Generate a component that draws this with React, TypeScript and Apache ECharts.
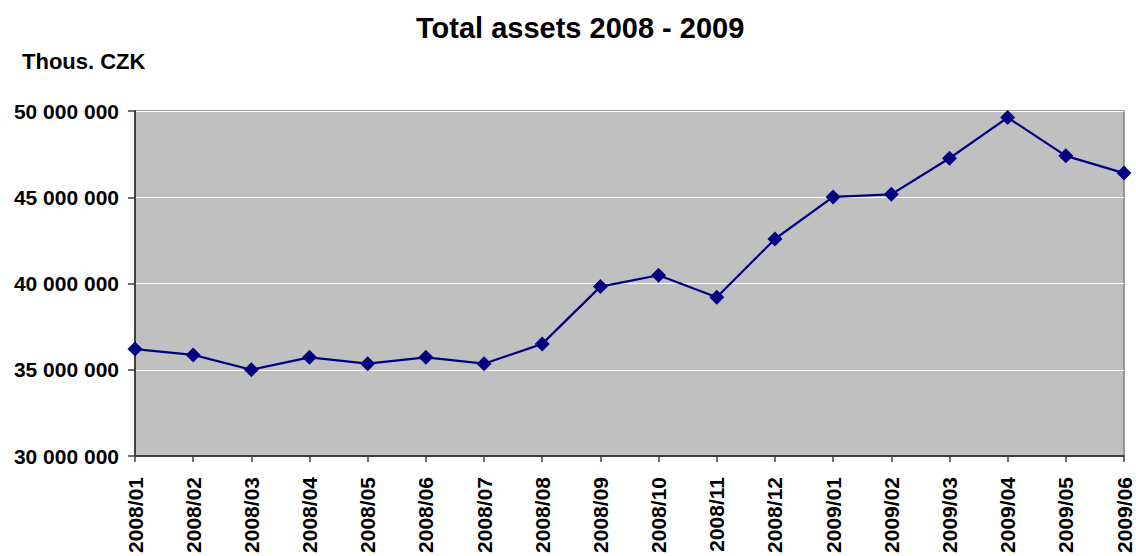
import React, { useEffect, useRef } from "react";
import * as echarts from "echarts";

const categories = [
  "2008/01", "2008/02", "2008/03", "2008/04", "2008/05", "2008/06",
  "2008/07", "2008/08", "2008/09", "2008/10", "2008/11", "2008/12",
  "2009/01", "2009/02", "2009/03", "2009/04", "2009/05", "2009/06",
];

const totalAssets = [
  36200000, 35860000, 35000000, 35720000, 35350000, 35720000,
  35350000, 36500000, 39820000, 40480000, 39200000, 42580000,
  45020000, 45170000, 47260000, 49620000, 47400000, 46400000,
];

const titleText = "Total assets 2008 - 2009";
const unitText = "Thous. CZK";

function fmt(v: number): string {
  return String(Math.round(v)).replace(/\B(?=(\d{3})+(?!\d))/g, " ");
}

export default function App() {
  const ref = useRef<HTMLDivElement>(null);
  useEffect(() => {
    if (!ref.current) return;
    const chart = echarts.init(ref.current, null, { renderer: "svg" });
    const font = "'Liberation Sans', Arial, sans-serif";
    chart.setOption({
      animation: false,
      backgroundColor: "#ffffff",
      title: [
        {
          text: titleText,
          left: 411,
          top: 8,
          textStyle: { fontFamily: font, fontWeight: "bold", fontSize: 29, color: "#000" },
        },
        {
          text: unitText,
          left: 17,
          top: 45,
          textStyle: { fontFamily: font, fontWeight: "bold", fontSize: 22, color: "#000" },
        },
      ],
      grid: {
        left: 135,
        top: 111,
        right: 12,
        bottom: 100,
        show: true,
        backgroundColor: "#C0C0C0",
        borderColor: "#808080",
        borderWidth: 1.5,
        containLabel: false,
        outerBoundsMode: "none",
      },
      xAxis: {
        type: "category",
        data: categories,
        boundaryGap: false,
        axisLine: { show: true, lineStyle: { color: "#404040", width: 2 } },
        axisTick: { show: true, alignWithLabel: true, length: 6, lineStyle: { color: "#404040", width: 1.5 } },
        axisLabel: {
          rotate: 90,
          margin: 21,
          interval: 0,
          fontFamily: font,
          fontWeight: "bold",
          fontSize: 21,
          color: "#000",
        },
        splitLine: { show: false },
      },
      yAxis: {
        type: "value",
        min: 30000000,
        max: 50000000,
        interval: 5000000,
        axisLine: { show: true, lineStyle: { color: "#404040", width: 2 } },
        axisTick: { show: true, length: 7, lineStyle: { color: "#404040", width: 1.5 } },
        axisLabel: {
          margin: 16,
          fontFamily: font,
          fontWeight: "bold",
          fontSize: 21,
          color: "#000",
          formatter: (v: number) => fmt(v),
        },
        splitLine: { show: true, lineStyle: { color: "#ffffff", width: 1 } },
      },
      series: [
        {
          type: "line",
          data: totalAssets,
          symbol: "diamond",
          symbolSize: 15,
          itemStyle: { color: "#000080" },
          lineStyle: { color: "#000080", width: 2.2 },
        },
      ],
    });
    return () => chart.dispose();
  }, []);
  return (
    <div
      ref={ref}
      style={{ position: "fixed", left: 0, top: 0, width: 1136, height: 556 }}
    />
  );
}
